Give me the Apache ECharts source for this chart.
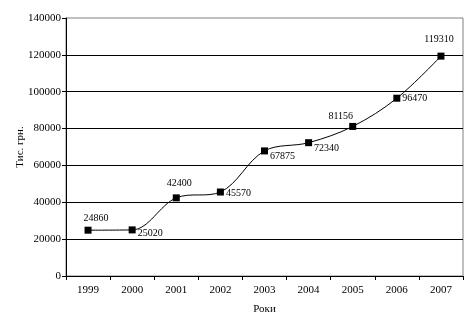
<!DOCTYPE html>
<html>
<head>
<meta charset="utf-8">
<script src="https://cdn.jsdelivr.net/npm/echarts@6/dist/echarts.min.js"></script>
<style>
  html, body { margin: 0; padding: 0; background: #fff; }
  #chart { width: 473px; height: 328px; }
</style>
</head>
<body>
<div id="chart"></div>
<script>
// Revenue by year, thousand UAH
const years = ['1999', '2000', '2001', '2002', '2003', '2004', '2005', '2006', '2007'];
const revenue = [24860, 25020, 42400, 45570, 67875, 72340, 81156, 96470, 119310];

// Where each value label sits relative to its marker
const labelSide = ['top', 'right', 'top', 'right', 'right', 'right', 'top', 'right', 'top'];
const labelShift = [[8, 1], [0, 3], [3, -2], [0, 1], [0, 5], [0, 6], [-12, 2], [0, 0], [-2, -4]];

const FONT = '"Liberation Serif", "Times New Roman", serif';

const points = revenue.map((v, i) => ({
  value: v,
  label: {
    position: labelSide[i],
    offset: labelShift[i],
    distance: labelSide[i] === 'right' ? 2 : 4
  }
}));

const chart = echarts.init(document.getElementById('chart'), null, { renderer: 'canvas' });
chart.setOption({
  animation: false,
  backgroundColor: '#ffffff',
  grid: {
    left: 66, right: 10, top: 18, bottom: 52,
    show: true, borderColor: '#808080', borderWidth: 1, backgroundColor: 'transparent'
  },
  xAxis: {
    type: 'category',
    data: years,
    boundaryGap: true,
    name: 'Роки',
    nameLocation: 'middle',
    nameGap: 28,
    nameTextStyle: { fontFamily: FONT, fontSize: 11, color: '#000' },
    axisLine: { lineStyle: { color: '#000', width: 1 } },
    axisTick: { show: true, length: 4, lineStyle: { color: '#000' }, alignWithLabel: false },
    axisLabel: { fontFamily: FONT, fontSize: 11, color: '#000', margin: 9 },
    splitLine: { show: false }
  },
  yAxis: {
    type: 'value',
    min: 0, max: 140000, interval: 20000,
    name: 'Тис. грн.',
    nameLocation: 'middle',
    nameGap: 40,
    nameRotate: 90,
    nameMoveOverlap: false,
    nameTextStyle: { fontFamily: FONT, fontSize: 11, color: '#000' },
    axisLine: { show: true, lineStyle: { color: '#000', width: 1 } },
    axisTick: { show: true, length: 4, lineStyle: { color: '#000' } },
    axisLabel: {
      fontFamily: FONT, fontSize: 11, color: '#000', margin: 5,
      formatter: v => String(v)
    },
    splitLine: { show: true, showMaxLine: false, lineStyle: { color: '#000', width: 1 } }
  },
  series: [{
    type: 'line',
    data: points,
    smooth: 0.35,
    symbol: 'rect',
    symbolSize: 7,
    itemStyle: { color: '#000' },
    lineStyle: { color: '#000', width: 1 },
    label: {
      show: true,
      fontFamily: FONT,
      fontSize: 10,
      color: '#000',
      formatter: p => String(p.value)
    }
  }]
});
</script>
</body>
</html>
